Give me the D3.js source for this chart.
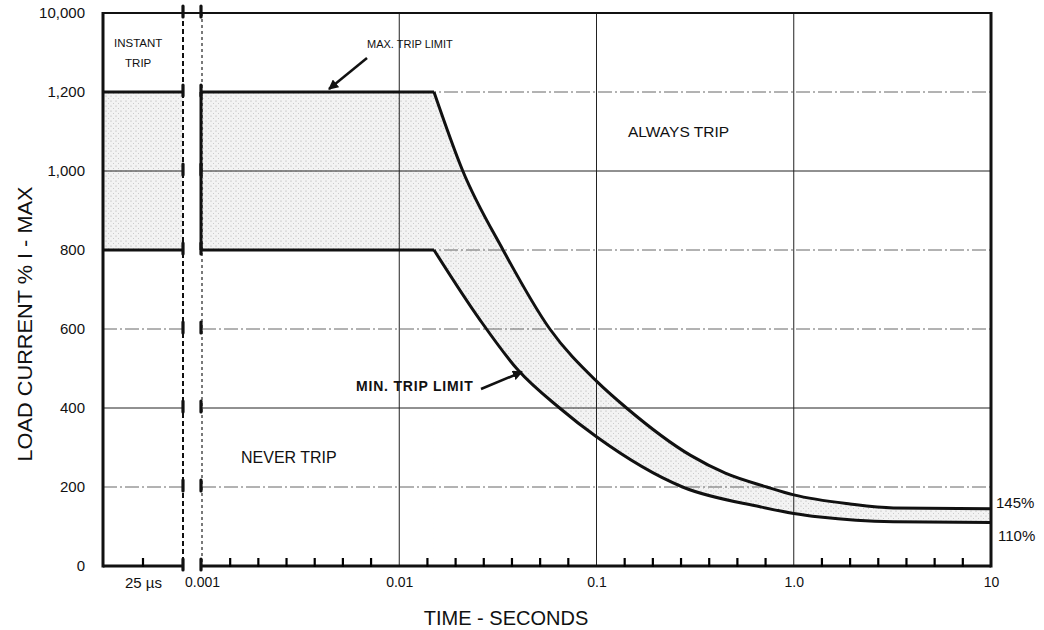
<!DOCTYPE html>
<html>
<head>
<meta charset="utf-8">
<script src="https://cdn.jsdelivr.net/npm/d3@7"></script>
<style>
  body { margin: 0; background: #fff; }
  text { font-family: "Liberation Sans", Arial, sans-serif; fill: #111; }
</style>
</head>
<body>
<svg id="chart" width="1044" height="630"></svg>
<script>
// axis values
const loadTicks = [0, 200, 400, 600, 800, 1000, 1200, 10000];
const loadTickLabels = ["0", "200", "400", "600", "800", "1,000", "1,200", "10,000"];
const timeDecades = [0.001, 0.01, 0.1, 1, 10];
const timeDecadeLabels = ["0.001", "0.01", "0.1", "1.0", "10"];
const instantTicks = [25];              // microseconds
const instantTickLabels = ["25 \u00b5s"];
const instantBand = [800, 1200];        // instant trip window, % I-max

// trip limit curves (seconds, % I-max)
const maxTripTime = [0.001, 0.015, 0.021, 0.0336, 0.058, 0.1, 0.142, 0.3, 0.45, 0.73, 1.0, 1.93, 3.2, 10];
const maxTripLoad = [1200, 1200, 1000, 800, 600, 468, 400, 280, 235, 200, 180, 157, 147, 145];
const minTripTime = [0.001, 0.015, 0.0255, 0.04, 0.065, 0.1, 0.273, 0.675, 1.0, 1.36, 3.2, 10];
const minTripLoad = [800, 800, 625, 496, 400, 327, 200, 150, 133, 124, 112, 110];

const pLeft = 103, pRight = 991, pTop = 13, pBottom = 566;
const breakL = 183, breakR = 202;

const svg = d3.select("#chart");

// broken scales
const y = d3.scaleLinear().domain([0, 1200, 10000]).range([pBottom, 92, pTop]);
const x = d3.scaleLog().domain([0.001, 10]).range([breakR, pRight]);
const xi = d3.scaleLinear().domain([0, 50]).range([pLeft, breakL]);

const toPts = (ts, vs) => ts.map((t, i) => ({ t: t, v: vs[i] }));
const maxPts = toPts(maxTripTime, maxTripLoad);
const minPts = toPts(minTripTime, minTripLoad);

// stipple for the trip band
const defs = svg.append("defs");
const pat = defs.append("pattern").attr("id", "stipple")
    .attr("width", 5).attr("height", 5).attr("patternUnits", "userSpaceOnUse");
pat.append("rect").attr("width", 5).attr("height", 5).attr("fill", "#f3f3f3");
pat.append("circle").attr("cx", 1).attr("cy", 1).attr("r", 0.6).attr("fill", "#aaa");
pat.append("circle").attr("cx", 3.5).attr("cy", 3.5).attr("r", 0.5).attr("fill", "#c0c0c0");

defs.append("marker").attr("id", "arrow")
    .attr("viewBox", "0 0 10 10").attr("refX", 9).attr("refY", 5)
    .attr("markerWidth", 4).attr("markerHeight", 4).attr("orient", "auto")
  .append("path").attr("d", "M0,0 L10,5 L0,10 z").attr("fill", "#111");

// flat part is straight, the rest smooth with a sharp knee
const flatArea = d3.area().x(d => x(d.t)).y0(pBottom).y1(d => y(d.v));
const curveArea = d3.area().x(d => x(d.t)).y0(pBottom).y1(d => y(d.v)).curve(d3.curveMonotoneX);
const flatLine = d3.line().x(d => x(d.t)).y(d => y(d.v));
const curveLine = d3.line().x(d => x(d.t)).y(d => y(d.v)).curve(d3.curveMonotoneX);

// shading: under max with stipple, then clear under min
svg.append("path").attr("d", flatArea(maxPts.slice(0, 2))).attr("fill", "url(#stipple)");
svg.append("path").attr("d", curveArea(maxPts.slice(1))).attr("fill", "url(#stipple)");
svg.append("path").attr("d", flatArea(minPts.slice(0, 2))).attr("fill", "#fff");
svg.append("path").attr("d", curveArea(minPts.slice(1))).attr("fill", "#fff");

svg.append("rect")
    .attr("x", xi(0)).attr("width", xi(50) - xi(0))
    .attr("y", y(instantBand[1])).attr("height", y(instantBand[0]) - y(instantBand[1]))
    .attr("fill", "url(#stipple)");

// grid
const grid = svg.append("g");
loadTicks.filter(v => v > 0 && v < 10000).forEach(v => {
  const solid = (v === 1000 || v === 400);
  [[pLeft, breakL], [breakR, pRight]].forEach(seg => {
    grid.append("line")
        .attr("x1", seg[0]).attr("x2", seg[1])
        .attr("y1", y(v)).attr("y2", y(v))
        .attr("stroke", solid ? "#222" : "#666")
        .attr("stroke-width", 1)
        .attr("stroke-dasharray", solid ? null : "14,3,2,3");
  });
});
timeDecades.slice(1, -1).forEach(t => {
  grid.append("line")
      .attr("x1", x(t)).attr("x2", x(t))
      .attr("y1", pTop).attr("y2", pBottom)
      .attr("stroke", "#222").attr("stroke-width", 1);
});

// break lines
svg.append("line").attr("x1", breakL).attr("x2", breakL).attr("y1", pTop).attr("y2", pBottom)
    .attr("stroke", "#111").attr("stroke-width", 2).attr("stroke-dasharray", "5,3");
svg.append("line").attr("x1", breakR).attr("x2", breakR).attr("y1", pTop).attr("y2", pBottom)
    .attr("stroke", "#333").attr("stroke-width", 1.3).attr("stroke-dasharray", "3,3");
loadTicks.forEach(v => {
  [breakL, breakR - 1].forEach(bx => {
    svg.append("path")
        .attr("d", `M${bx},${y(v) + 4} L${bx},${y(v) - 7}`)
        .attr("stroke", "#111").attr("stroke-width", 3.2).attr("stroke-linecap", "round");
  });
});

// trip curves
const curves = svg.append("g").attr("fill", "none").attr("stroke", "#111").attr("stroke-width", 3);
[maxPts, minPts].forEach(p => {
  curves.append("path").attr("d", flatLine(p.slice(0, 2)));
  curves.append("path").attr("d", curveLine(p.slice(1)));
});
curves.append("line")
    .attr("x1", x(0.001) - 1).attr("x2", x(0.001) - 1)
    .attr("y1", y(minTripLoad[0])).attr("y2", y(maxTripLoad[0]));
instantBand.forEach(v => {
  curves.append("line").attr("x1", xi(0)).attr("x2", xi(50)).attr("y1", y(v)).attr("y2", y(v));
});

// frame
const frame = svg.append("g").attr("stroke", "#111").attr("fill", "none");
frame.append("line").attr("x1", pLeft).attr("x2", pLeft).attr("y1", pTop - 1).attr("y2", pBottom + 1.5).attr("stroke-width", 3);
frame.append("line").attr("x1", pRight).attr("x2", pRight).attr("y1", pTop - 1).attr("y2", pBottom + 1.5).attr("stroke-width", 3);
frame.append("line").attr("x1", pLeft).attr("x2", pRight).attr("y1", pTop).attr("y2", pTop).attr("stroke-width", 2);
frame.append("line").attr("x1", pLeft).attr("x2", breakL).attr("y1", pBottom).attr("y2", pBottom).attr("stroke-width", 3);
frame.append("line").attr("x1", breakR).attr("x2", pRight).attr("y1", pBottom).attr("y2", pBottom).attr("stroke-width", 3);

// bottom ticks, evenly spaced inside each decade like the original sheet
const minorTicks = [];
timeDecades.slice(0, -1).forEach(d => {
  for (let i = 1; i < 7; i++) minorTicks.push(d * Math.pow(10, i / 7));
});
const tickPath = d3.path();
minorTicks.forEach(t => { tickPath.moveTo(x(t), pBottom + 1); tickPath.lineTo(x(t), pBottom - 8); });
instantTicks.forEach(t => { tickPath.moveTo(xi(t), pBottom + 1); tickPath.lineTo(xi(t), pBottom - 8); });
svg.append("path")
    .attr("d", tickPath.toString())
    .attr("fill", "none").attr("stroke", "#000").attr("stroke-width", 2.2);

const xMajor = svg.append("g").attr("transform", `translate(0,${pBottom})`)
    .call(d3.axisBottom(x).tickValues(timeDecades)
        .tickFormat((d, i) => timeDecadeLabels[i]).tickSize(0).tickPadding(11));
const xInstant = svg.append("g").attr("transform", `translate(0,${pBottom})`)
    .call(d3.axisBottom(xi).tickValues(instantTicks)
        .tickFormat((d, i) => instantTickLabels[i]).tickSize(0).tickPadding(11));
const yAxis = svg.append("g").attr("transform", `translate(${pLeft},0)`)
    .call(d3.axisLeft(y).tickValues(loadTicks)
        .tickFormat((d, i) => loadTickLabels[i]).tickSize(0).tickPadding(18));

[xMajor, xInstant, yAxis].forEach(g => {
  g.select(".domain").remove();
  g.selectAll("text").style("font-family", "'Liberation Sans', Arial, sans-serif").attr("fill", "#111");
});
xMajor.selectAll("text").style("font-size", "14px");
xInstant.selectAll("text").style("font-size", "15px");
yAxis.selectAll("text").style("font-size", "15px");

// axis titles
svg.append("text")
    .attr("transform", "translate(32,324) rotate(-90)")
    .attr("text-anchor", "middle")
    .attr("textLength", 275).attr("lengthAdjust", "spacingAndGlyphs")
    .style("font-size", "21px")
    .text("LOAD CURRENT % I - MAX");
svg.append("text")
    .attr("x", 506).attr("y", 625)
    .attr("text-anchor", "middle")
    .style("font-size", "20px")
    .text("TIME - SECONDS");

// region labels
svg.append("text").attr("x", xi(22)).attr("y", 47).attr("text-anchor", "middle")
    .style("font-size", "11.5px").text("INSTANT");
svg.append("text").attr("x", xi(22)).attr("y", 67).attr("text-anchor", "middle")
    .style("font-size", "11.5px").text("TRIP");
svg.append("text").attr("x", 628).attr("y", 137).style("font-size", "15.5px").text("ALWAYS TRIP");
svg.append("text").attr("x", 241).attr("y", 463).style("font-size", "16px").text("NEVER TRIP");

svg.append("text").attr("x", 367).attr("y", 48).style("font-size", "11px").text("MAX. TRIP LIMIT");
svg.append("line").attr("x1", 367).attr("y1", 58).attr("x2", 329).attr("y2", 89)
    .attr("stroke", "#111").attr("stroke-width", 2.5).attr("marker-end", "url(#arrow)");

svg.append("text").attr("x", 356).attr("y", 391)
    .style("font-size", "14px").style("font-weight", "bold").style("letter-spacing", "0.8px")
    .text("MIN. TRIP LIMIT");
svg.append("line").attr("x1", 481).attr("y1", 389).attr("x2", 522).attr("y2", 372)
    .attr("stroke", "#111").attr("stroke-width", 2.5).attr("marker-end", "url(#arrow)");

svg.append("text").attr("x", 996).attr("y", y(maxTripLoad[maxTripLoad.length - 1]) - 1)
    .style("font-size", "15px").text("145%");
svg.append("text").attr("x", 998).attr("y", y(minTripLoad[minTripLoad.length - 1]) + 18)
    .style("font-size", "15px").text("110%");
</script>
</body>
</html>
